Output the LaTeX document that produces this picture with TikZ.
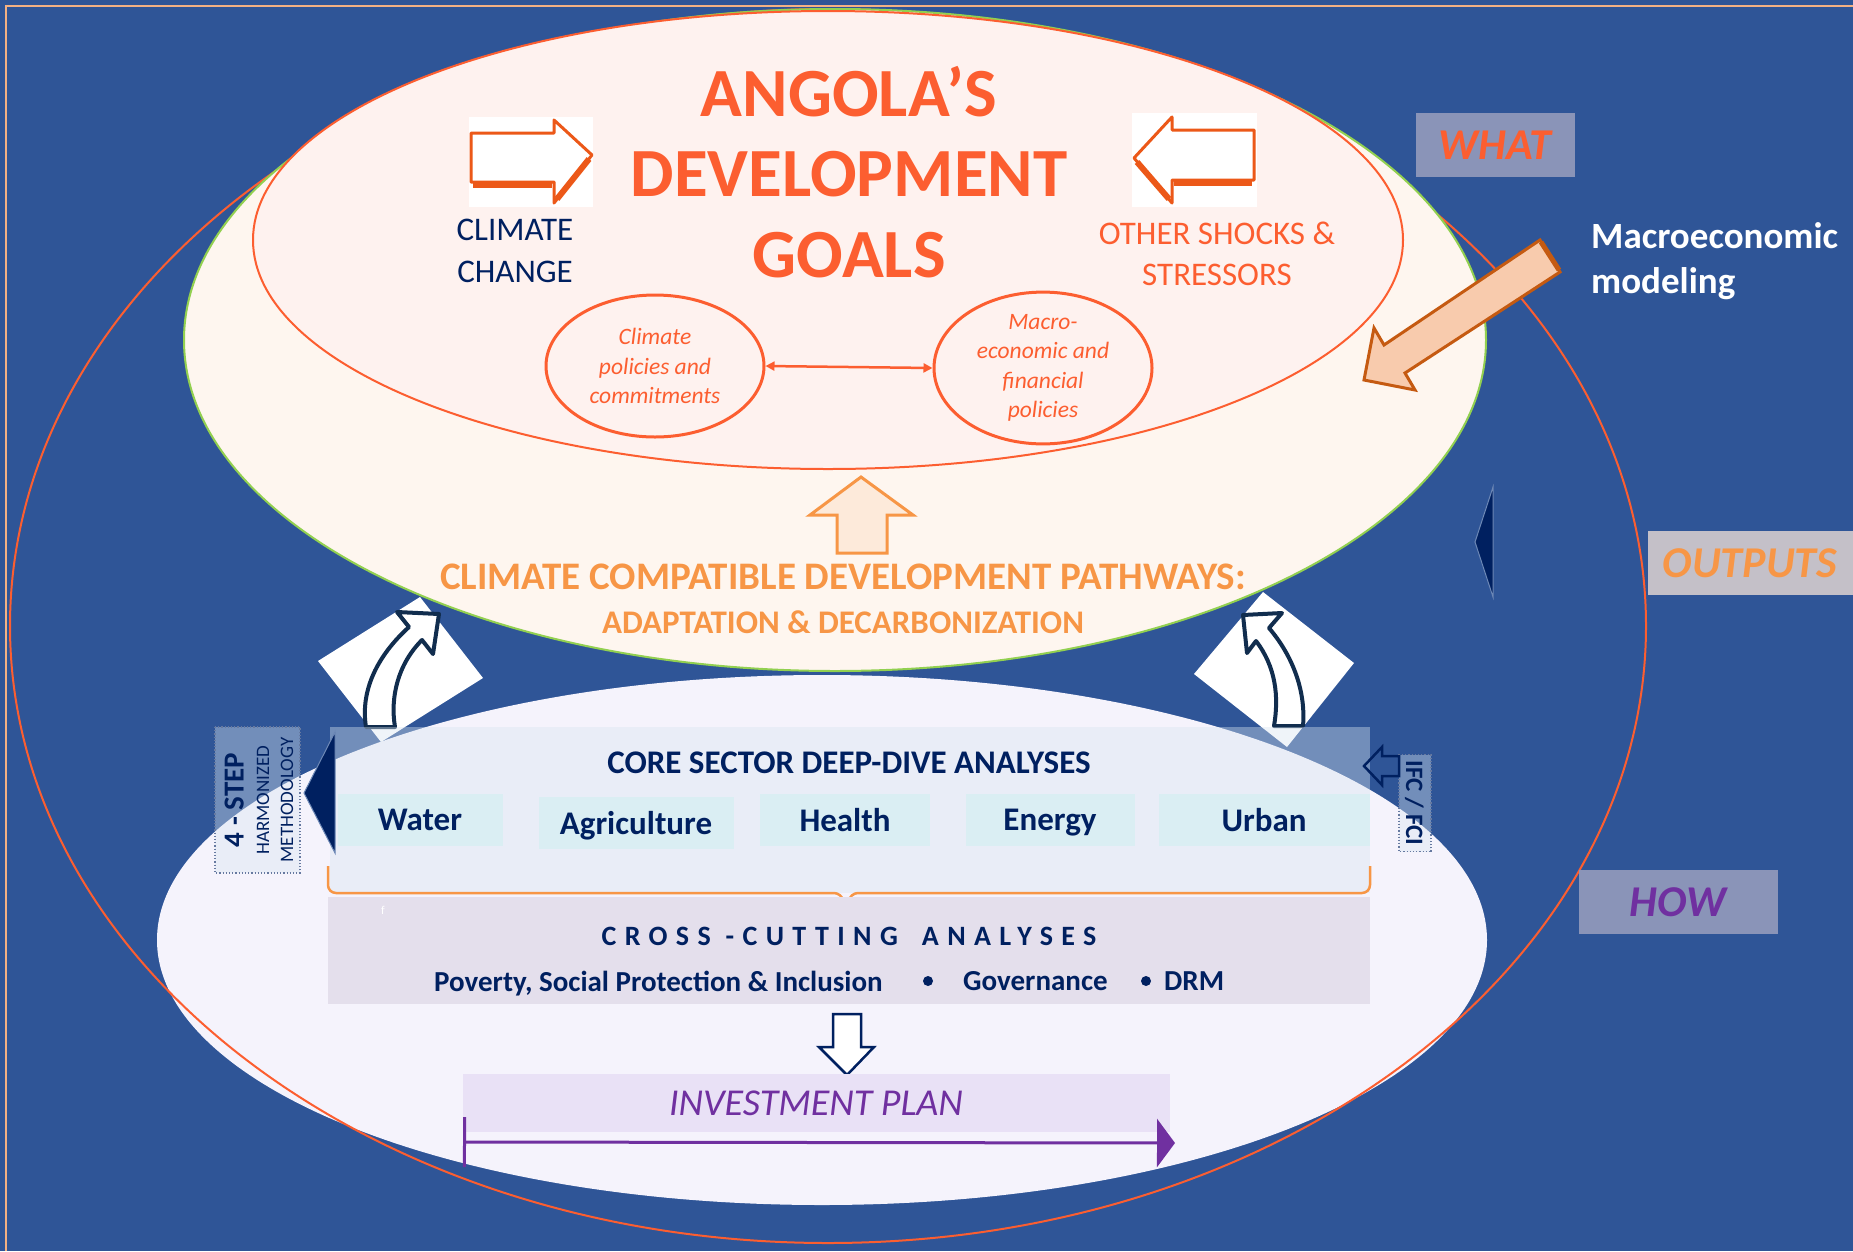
\documentclass[tikz,border=0pt]{standalone}
\usepackage{fontspec}
\setmainfont{Carlito}
\usetikzlibrary{arrows.meta, shapes.geometric}

\definecolor{bgblue}{RGB}{47,85,151}
\definecolor{frame}{RGB}{244,177,131}
\definecolor{ccnavy}{RGB}{0,32,96}
\definecolor{arrowink}{RGB}{17,45,78}
\definecolor{goalred}{RGB}{252,94,48}
\definecolor{iconorange}{RGB}{236,88,24}
\definecolor{accent}{RGB}{247,150,70}
\definecolor{lime}{RGB}{146,208,80}
\definecolor{cream}{RGB}{254,246,239}
\definecolor{blush}{RGB}{254,242,239}
\definecolor{lavender}{RGB}{245,243,252}
\definecolor{sectorblue}{RGB}{218,238,243}
\definecolor{crossgrey}{RGB}{228,223,236}
\definecolor{violet}{RGB}{112,48,160}
\definecolor{tagblue}{RGB}{138,148,184}
\definecolor{taggrey}{RGB}{196,192,200}
\definecolor{peach}{RGB}{248,203,173}
\definecolor{rust}{RGB}{197,90,17}
\definecolor{apricot}{RGB}{253,234,218}
\definecolor{veil}{RGB}{215,228,240}
\definecolor{planfill}{RGB}{233,225,246}

\begin{document}
\begin{tikzpicture}[x = 1pt, y = -1pt,
    txt/.style = {inner sep = 0pt, text depth = 0pt},
    sector/.style = {fill = sectorblue, minimum height = 52, inner sep = 0pt, text depth = 0pt, text = ccnavy, font = \fontsize{33}{40}\selectfont\bfseries},
    tag/.style = {minimum height = 64, inner sep = 0pt, text depth = 0pt, font = \fontsize{44}{50}\selectfont\bfseries\itshape},
    policy/.style = {ellipse, draw = goalred, line width = 3, inner sep = 0pt, minimum width = 218, minimum height = 142, align = center, text = goalred, font = \fontsize{23.5}{29.5}\selectfont\itshape},
    sketch/.style = {draw = arrowink, line width = 4, fill = white, line join = round},
    hollow/.style = {line width = 2.5, line join = miter}
]
    \useasboundingbox (0, 0) rectangle (1853, 1251);
    \fill[bgblue] (0, 0) rectangle (1853, 1251);
    \draw[frame, line width = 2] (1853, 6) -- (6, 6) -- (6, 1251);

    \fill[lavender] (822, 940) ellipse [x radius = 665, y radius = 265];
    \draw[goalred, line width = 2] (828, 626) ellipse [x radius = 818, y radius = 617];

    \fill[white] (318, 661) -- (420, 597) -- (483, 678) -- (381, 742) -- cycle;
    \fill[white] (1194, 674) -- (1263, 592) -- (1354, 663) -- (1287, 747) -- cycle;
    \draw[sketch] (366, 727) .. controls (360, 690) and (378, 655) .. (409, 627) -- (397, 612) -- (439, 614) -- (433, 654) -- (422, 640) .. controls (398, 664) and (390, 697) .. (395, 727) -- cycle;
    \draw[sketch] (1303, 726) .. controls (1306, 690) and (1292, 655) .. (1269, 628) -- (1282, 613) -- (1243, 615) -- (1247, 653) -- (1256, 641) .. controls (1276, 667) and (1279, 697) .. (1274, 726) -- cycle;

    \filldraw[fill = cream, draw = lime, line width = 2] (835, 340) ellipse [x radius = 651, y radius = 331];
    \filldraw[fill = blush, draw = goalred, line width = 2] (828, 240) ellipse [x radius = 575, y radius = 229];

    \fill[white] (469, 117) rectangle (593, 207);
    \filldraw[fill = white, draw = iconorange, line width = 3, line join = round] (471, 133) -- (554, 133) -- (554, 120) -- (592, 155) -- (554, 203) -- (554, 182) -- (471, 182) -- cycle;
    \draw[iconorange, line width = 6] (473, 185) -- (552, 185);
    \draw[iconorange, line width = 6] (557, 199) -- (589, 159);

    \fill[white] (1132, 113) rectangle (1257, 207);
    \filldraw[fill = white, draw = iconorange, line width = 3, line join = round] (1254, 130) -- (1172, 130) -- (1172, 117) -- (1134, 158) -- (1172, 203) -- (1172, 180) -- (1254, 180) -- cycle;
    \draw[iconorange, line width = 6] (1174, 183) -- (1252, 183);
    \draw[iconorange, line width = 6] (1137, 162) -- (1169, 199);

    \node[txt, text = goalred, font = \fontsize{69}{83}\selectfont\bfseries] (goal1) at (849, 91) {ANGOLA’S};
    \node[txt, text = goalred, font = \fontsize{69}{83}\selectfont\bfseries] (goal2) at (849, 174) {DEVELOPMENT};
    \node[txt, text = goalred, font = \fontsize{69}{83}\selectfont\bfseries] (goal3) at (849, 255) {GOALS};

    \node[txt, text = ccnavy, align = center, font = \fontsize{33}{42}\selectfont] (climate) at (515, 251) {CLIMATE\\CHANGE};
    \node[txt, text = goalred, align = center, font = \fontsize{33}{41}\selectfont] (shocks) at (1217, 254) {OTHER SHOCKS \&\\STRESSORS};

    \node[policy] (climpol) at (655, 366) {Climate\\policies and\\commitments};
    \node[policy, minimum height = 138] (macropol) at (1043, 368) {Macro-\\economic and\\financial\\policies};
    \draw[goalred, line width = 2.5, {Triangle[length = 9pt, width = 9pt]}-{Triangle[length = 9pt, width = 9pt]}] (climpol.east) -- (macropol.west);

    \filldraw[fill = apricot, draw = accent, hollow, line width = 3] (861, 477) -- (913, 515) -- (887, 515) -- (887, 553) -- (837, 553) -- (837, 515) -- (810, 515) -- cycle;
    \node[txt, text = accent, font = \fontsize{39}{45}\selectfont\bfseries] (ccdp) at (843, 577) {CLIMATE COMPATIBLE DEVELOPMENT PATHWAYS:};
    \node[txt, text = accent, font = \fontsize{33}{40}\selectfont\bfseries] (adapt) at (843, 622) {ADAPTATION \& DECARBONIZATION};

    \filldraw[fill = peach, draw = rust, line width = 3, line join = miter] (1540, 240) -- (1384, 345) -- (1374, 328) -- (1364, 380) -- (1415, 390) -- (1405, 373) -- (1560, 272) -- cycle;
    \draw[rust, line width = 5] (1541, 242) -- (1559, 270);
    \node[txt, anchor = west, align = left, text = white, font = \fontsize{37}{45}\selectfont\bfseries] (macro) at (1591, 258) {Macroeconomic\\modeling};

    \node[tag, fill = tagblue, minimum width = 159, text = goalred] (what) at (1495, 145) {WHAT};
    \node[tag, fill = taggrey, minimum width = 205, text = accent] (outputs) at (1750, 563) {OUTPUTS};
    \node[tag, fill = tagblue, minimum width = 199, text = violet] (how) at (1678, 902) {HOW};
    \filldraw[fill = ccnavy, draw = bgblue!70!white, line width = 1] (1493, 487) -- (1475, 542) -- (1493, 597) -- cycle;

    \fill[veil, opacity = 0.4] (330, 727) rectangle (1370, 893);
    \filldraw[fill = ccnavy, draw = bgblue!70!white, line width = 1] (335, 732) -- (304, 793) -- (335, 853) -- cycle;
    \filldraw[fill = veil, fill opacity = 0.4, draw = ccnavy!60, dotted, line width = 1.2] (215, 727) rectangle (300, 873);
    \node[txt, rotate = 90, text = ccnavy, font = \fontsize{29}{32}\selectfont\bfseries] (step) at (234, 800) {4 - STEP};
    \node[txt, rotate = 90, text = ccnavy, font = \fontsize{19}{22}\selectfont] (harm) at (263, 800) {HARMONIZED};
    \node[txt, rotate = 90, text = ccnavy, font = \fontsize{19}{22}\selectfont] (meth) at (287, 800) {METHODOLOGY};

    \node[draw = ccnavy!60, dotted, line width = 1.2, fill = veil, fill opacity = 0.4, text opacity = 1, rotate = -90, minimum width = 97, minimum height = 32, inner sep = 0pt, text depth = 0pt, text = ccnavy, font = \fontsize{25}{28}\selectfont\bfseries] (ifc) at (1415, 803) {IFC / FCI};
    \draw[ccnavy, hollow] (1364, 766) -- (1382, 747) -- (1382, 756) -- (1399, 756) -- (1399, 776) -- (1382, 776) -- (1382, 785) -- cycle;

    \node[txt, text = ccnavy, font = \fontsize{33}{40}\selectfont\bfseries] (core) at (849, 763) {CORE SECTOR DEEP-DIVE ANALYSES};
    \node[sector, minimum width = 165] (water) at (420, 820) {Water};
    \node[sector, minimum width = 195] (agri) at (636, 823) {Agriculture};
    \node[sector, minimum width = 170] (health) at (845, 820) {Health};
    \node[sector, minimum width = 169] (energy) at (1050, 820) {Energy};
    \node[sector, minimum width = 211] (urban) at (1264, 820) {Urban};

    \draw[accent, line width = 2.5, rounded corners = 8] (328, 866) |- (842, 893) -- (846, 922) -- (850, 893) -| (1370, 866);

    \node[fill = crossgrey, minimum width = 1042, minimum height = 107, inner sep = 0pt] (cross) at (849, 950) {};
    \node[txt, text = white, font = \fontsize{12}{14}\selectfont] (stray) at (383, 910) {f};
    \node[txt, text = ccnavy, font = \fontsize{28}{32}\selectfont\bfseries\addfontfeatures{LetterSpace=30}] (crosstitle) at (849, 936) {CROSS -CUTTING\hspace{24pt}ANALYSES};
    \node[txt, anchor = west, text = ccnavy, font = \fontsize{29}{34}\selectfont\bfseries] (poverty) at (434, 981) {Poverty, Social Protection \& Inclusion};
    \node[txt, anchor = west, text = ccnavy, font = \fontsize{29}{34}\selectfont\bfseries] (gov) at (963, 981) {Governance};
    \node[txt, anchor = west, text = ccnavy, font = \fontsize{29}{34}\selectfont\bfseries] (drm) at (1164, 981) {DRM};
    \fill[ccnavy] (928, 981) circle (5);
    \fill[ccnavy] (1146, 981) circle (5);

    \filldraw[fill = white, draw = ccnavy, hollow] (833, 1014) -- (861, 1014) -- (861, 1047) -- (874, 1047) -- (847, 1075) -- (819, 1047) -- (833, 1047) -- cycle;

    \node[fill = planfill, minimum width = 707, minimum height = 58, inner sep = 0pt, text depth = 0pt, text = violet, font = \fontsize{38}{42}\selectfont\itshape] (plan) at (816, 1103) {INVESTMENT PLAN};
    \coordinate (tstart) at (463, 1142);
    \coordinate (tend) at (1175, 1143);
    \draw[violet, line width = 3, {Bar[width = 50pt]}-{Triangle[length = 18pt, width = 48pt]}] (tstart) -- (tend);
\end{tikzpicture}
\end{document}
